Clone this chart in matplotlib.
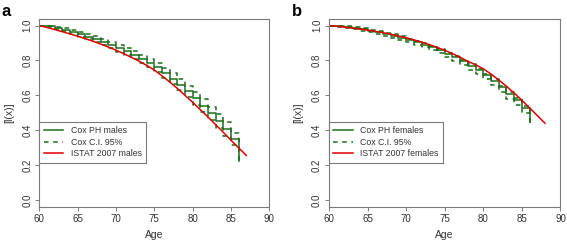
import numpy as np
import matplotlib.pyplot as plt

plt.rcParams['font.family'] = ['Liberation Sans', 'DejaVu Sans']

# ages for the Cox step curves and the ISTAT life tables
cox_ages = list(range(60, 87))
m_istat_ages = list(range(60, 88))
f_istat_ages = list(range(60, 89))

# males
m_istat = [1.000, 0.989, 0.977, 0.965, 0.952, 0.939, 0.925, 0.910, 0.894, 0.877,
           0.859, 0.839, 0.818, 0.796, 0.772, 0.745, 0.712, 0.677, 0.640, 0.600,
           0.560, 0.518, 0.476, 0.432, 0.388, 0.343, 0.299, 0.256]
m_cox = [1.000, 0.996, 0.986, 0.975, 0.963, 0.950, 0.937, 0.922, 0.906, 0.889,
         0.871, 0.852, 0.831, 0.809, 0.786, 0.760, 0.730, 0.696, 0.660, 0.622,
         0.582, 0.540, 0.497, 0.452, 0.408, 0.350, 0.225]
m_hi = [1.000, 1.000, 0.993, 0.984, 0.974, 0.963, 0.951, 0.938, 0.924, 0.908,
        0.891, 0.873, 0.854, 0.833, 0.811, 0.787, 0.759, 0.727, 0.692, 0.656,
        0.618, 0.578, 0.536, 0.493, 0.450, 0.385, 0.290]
m_lo = [1.000, 0.991, 0.979, 0.966, 0.952, 0.937, 0.923, 0.906, 0.888, 0.870,
        0.851, 0.831, 0.808, 0.785, 0.761, 0.733, 0.701, 0.665, 0.628, 0.588,
        0.546, 0.502, 0.458, 0.411, 0.366, 0.315, 0.225]

# females
f_istat = [1.000, 0.996, 0.991, 0.986, 0.980, 0.974, 0.967, 0.959, 0.950, 0.940,
           0.930, 0.918, 0.905, 0.891, 0.875, 0.858, 0.839, 0.818, 0.795, 0.775,
           0.752, 0.722, 0.688, 0.652, 0.613, 0.572, 0.528, 0.484, 0.440]
f_cox = [1.000, 0.996, 0.991, 0.985, 0.978, 0.970, 0.961, 0.952, 0.942, 0.931,
         0.918, 0.905, 0.891, 0.875, 0.857, 0.838, 0.817, 0.795, 0.770, 0.746,
         0.717, 0.684, 0.648, 0.610, 0.575, 0.530, 0.450]
f_hi = [1.000, 0.999, 0.995, 0.990, 0.984, 0.977, 0.968, 0.959, 0.949, 0.938,
        0.925, 0.912, 0.898, 0.882, 0.864, 0.845, 0.824, 0.802, 0.777, 0.753,
        0.724, 0.691, 0.656, 0.618, 0.583, 0.538, 0.458]
f_lo = [1.000, 0.993, 0.986, 0.979, 0.971, 0.962, 0.952, 0.942, 0.931, 0.919,
        0.905, 0.891, 0.876, 0.859, 0.840, 0.820, 0.797, 0.774, 0.748, 0.722,
        0.692, 0.658, 0.620, 0.581, 0.545, 0.500, 0.420]

xticks = [60, 65, 70, 75, 80, 85, 90]
yticks = [0.0, 0.2, 0.4, 0.6, 0.8, 1.0]

GREEN = '#1b6e1b'
RED = '#e00000'
GRAY = '#7a7a7a'
TXT = '#333333'

fig = plt.figure(figsize=(5.67, 2.41), dpi=100)
ax1 = fig.add_axes([0.0693, 0.141, 0.4057, 0.782])
ax2 = fig.add_axes([0.5802, 0.141, 0.4083, 0.782])


def panel(ax, cox, lo, hi, iages, istat, sex, letter):
    ax.step(cox_ages, cox, where='post', color=GREEN, lw=1.1, label='Cox PH ' + sex)
    ax.step(cox_ages, hi, where='post', color=GREEN, lw=1.1, dashes=(3, 3),
            label='Cox C.I. 95%')
    ax.step(cox_ages, lo, where='post', color=GREEN, lw=1.1, dashes=(3, 3))
    ax.plot(iages, istat, color=RED, lw=1.1, label='ISTAT 2007 ' + sex)
    ax.set_xlim(60, 90)
    ax.set_ylim(-0.04, 1.04)
    ax.set_xticks(xticks)
    ax.set_yticks(yticks)
    ax.set_xticklabels([str(t) for t in xticks])
    ax.set_yticklabels(['%.1f' % t for t in yticks], rotation=90, va='center')
    ax.tick_params(labelsize=7, length=3, width=0.7, color=GRAY, labelcolor=TXT, pad=2)
    for s in ax.spines.values():
        s.set_color(GRAY)
        s.set_linewidth(0.8)
    ax.set_xlabel('Age', fontsize=7.5, color=TXT, labelpad=4)
    ax.set_ylabel('[l(x)]', fontsize=7.5, color=TXT, labelpad=6)
    leg = ax.legend(loc='upper left', bbox_to_anchor=(0.0, 0.452), borderaxespad=0,
                    fontsize=6.3, fancybox=False, edgecolor=GRAY, framealpha=1,
                    handlelength=2.2, handletextpad=0.9, labelspacing=0.3,
                    borderpad=0.5)
    leg.get_frame().set_linewidth(0.8)
    for t in leg.get_texts():
        t.set_color(TXT)
    fig.text(ax.get_position().x0 - 0.066, 0.985, letter, fontsize=12,
             fontweight='bold', va='top', ha='left')


panel(ax1, m_cox, m_lo, m_hi, m_istat_ages, m_istat, 'males', 'a')
panel(ax2, f_cox, f_lo, f_hi, f_istat_ages, f_istat, 'females', 'b')

fig.savefig('out.png', dpi=100)
